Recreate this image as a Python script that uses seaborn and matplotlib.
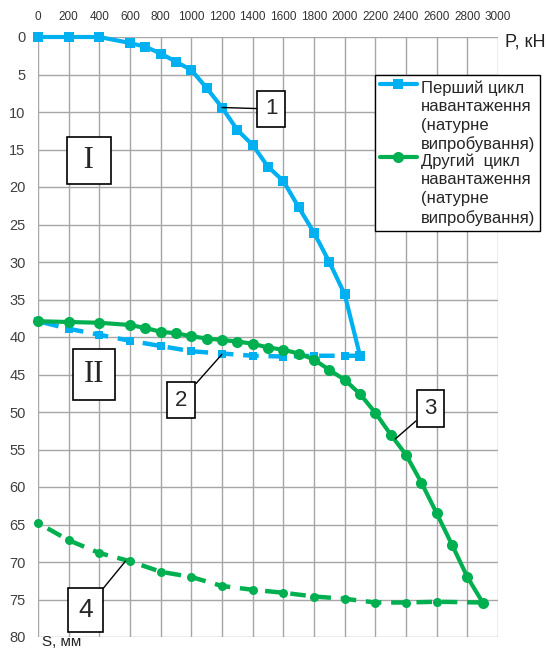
import matplotlib
matplotlib.use("Agg")
import matplotlib.pyplot as plt
import seaborn as sns
import pandas as pd
import numpy as np
from matplotlib.legend_handler import HandlerLine2D

# ---- data ----
p1 = [0, 200, 400, 600, 700, 800, 900, 1000, 1100, 1200, 1300, 1400, 1500, 1600,
      1700, 1800, 1900, 2000, 2100]
s1 = [0, 0, 0, 0.8, 1.3, 2.2, 3.3, 4.4, 6.8, 9.4, 12.4, 14.4, 17.3, 19.2,
      22.7, 26.1, 30.0, 34.3, 42.5]

p2 = [2100, 2000, 1800, 1600, 1400, 1200, 1000, 800, 600, 400, 200, 0]
s2 = [42.5, 42.5, 42.5, 42.6, 42.5, 42.2, 41.9, 41.2, 40.5, 39.7, 38.9, 37.9]

p3 = [0, 200, 400, 600, 700, 800, 900, 1000, 1100, 1200, 1300, 1400, 1500, 1600,
      1700, 1800, 1900, 2000, 2100, 2200, 2300, 2400, 2500, 2600, 2700, 2800, 2900]
s3 = [37.9, 38.0, 38.1, 38.4, 38.8, 39.3, 39.5, 39.9, 40.2, 40.4, 40.6, 40.9, 41.4, 41.7,
      42.2, 43.0, 44.4, 45.7, 47.6, 50.1, 53.0, 55.7, 59.4, 63.5, 67.7, 72.0, 75.4]

p4 = [2900, 2600, 2400, 2200, 2000, 1800, 1600, 1400, 1200, 1000, 800, 600, 400, 200, 0]
s4 = [75.4, 75.3, 75.4, 75.4, 74.9, 74.6, 74.1, 73.7, 73.2, 72.0, 71.3, 69.9, 68.8, 67.1, 64.8]

x_ticks = list(range(0, 3001, 200))
y_ticks = list(range(0, 81, 5))

label1 = "Перший цикл\nнавантаження\n(натурне\nвипробування)"
label2 = "Другий  цикл\nнавантаження\n(натурне\nвипробування)"

BLUE = "#00B0F0"
GREEN = "#00B050"

sns.set_style("white")
plt.rcParams['font.family'] = ['Liberation Sans', 'DejaVu Sans']

fig = plt.figure(figsize=(5.47, 6.5), dpi=100)
ax = fig.add_axes([38/547, 1-637/650, 460/547, 600/650])

df1 = pd.DataFrame({"P": p1, "S": s1})
df2 = pd.DataFrame({"P": p2, "S": s2})
df3 = pd.DataFrame({"P": p3, "S": s3})
df4 = pd.DataFrame({"P": p4, "S": s4})

sns.lineplot(data=df2, x="P", y="S", ax=ax, sort=False, estimator=None, color=BLUE,
             lw=3.2, marker="s", markersize=5.5, markeredgewidth=0, linestyle="--", clip_on=False)
ax.lines[-1].set_dashes((3.5, 2.2))
sns.lineplot(data=df4, x="P", y="S", ax=ax, sort=False, estimator=None, color=GREEN,
             lw=3.2, marker="o", markersize=6.5, markeredgewidth=0, linestyle="--", clip_on=False)
ax.lines[-1].set_dashes((3.5, 2.2))
sns.lineplot(data=df1, x="P", y="S", ax=ax, sort=False, estimator=None, color=BLUE,
             lw=3, marker="s", markersize=7.5, markeredgewidth=0, label=label1, clip_on=False)
sns.lineplot(data=df3, x="P", y="S", ax=ax, sort=False, estimator=None, color=GREEN,
             lw=3, marker="o", markersize=8, markeredgewidth=0, label=label2, clip_on=False)

ax.set_xlim(0, 3000)
ax.set_ylim(80, 0)
ax.set_xticks(x_ticks)
ax.set_yticks(y_ticks)
ax.xaxis.tick_top()
ax.set_xlabel("")
ax.set_ylabel("")
ax.grid(True, color="#A6A6A6", lw=1)
for sp in ax.spines.values():
    sp.set_visible(False)
ax.tick_params(axis="x", length=0, pad=10, labelsize=8.5, labelcolor="#333333")
ax.tick_params(axis="y", length=0, pad=9, labelsize=10.5, labelcolor="#404040")
ax.set_axisbelow(True)


class TopHandler(HandlerLine2D):
    def __init__(self, shift, **kw):
        super().__init__(**kw)
        self.shift = shift

    def create_artists(self, legend, orig_handle, xdescent, ydescent, width, height,
                       fontsize, trans):
        arts = super().create_artists(legend, orig_handle, xdescent, ydescent, width,
                                      height, fontsize, trans)
        for a in arts:
            a.set_ydata(np.asarray(a.get_ydata(), dtype=float) + self.shift)
        return arts


LFS = 12
LSP = 1.3
handles, labels = ax.get_legend_handles_labels()
leg = ax.legend(handles, labels, loc="upper left", bbox_to_anchor=(375/547, 1-75/650),
                bbox_transform=fig.transFigure, frameon=True, fancybox=False,
                fontsize=LFS, handlelength=2.2, handletextpad=0.25, borderpad=0.3,
                labelspacing=0.05, borderaxespad=0,
                handler_map={h: TopHandler(1.5 * LFS * LSP) for h in handles})
leg.get_frame().set_edgecolor("black")
leg.get_frame().set_linewidth(1)
leg.get_frame().set_alpha(1)
for t in leg.get_texts():
    t.set_linespacing(LSP)

fig.text(525/547, 1-42/650, "P, кН", fontsize=13, ha="center", va="center", color="#222222")
fig.text(42/547, 8/650, "S, мм", fontsize=11, ha="left", va="center", color="#222222")

box = dict(boxstyle="square,pad=0.35", fc="white", ec="black", lw=1.2)
arrow = dict(arrowstyle="-", color="black", lw=1, shrinkA=0, shrinkB=0)

ax.text(333, 16.5, " I ", fontsize=22, family=['Liberation Serif', 'DejaVu Serif'],
        ha="center", va="center", bbox=dict(boxstyle="square,pad=0.3", fc="white", ec="black", lw=1.2))
ax.text(365, 45.0, "II", fontsize=22, family=['Liberation Serif', 'DejaVu Serif'],
        ha="center", va="center", bbox=dict(boxstyle="square,pad=0.35", fc="white", ec="black", lw=1.2))

ax.annotate("1", xy=(1200, 9.4), xytext=(1520, 9.6), fontsize=16, ha="center", va="center",
            bbox=box, arrowprops=arrow)
ax.annotate("2", xy=(1200, 42.3), xytext=(935, 48.4), fontsize=16, ha="center", va="center",
            bbox=box, arrowprops=arrow)
ax.annotate("3", xy=(2330, 53.6), xytext=(2560, 49.5), fontsize=16, ha="center", va="center",
            bbox=box, arrowprops=arrow)
ax.annotate("4", xy=(570, 69.9), xytext=(310, 76.4), fontsize=19, ha="center", va="center",
            bbox=dict(boxstyle="square,pad=0.38", fc="white", ec="black", lw=1.2), arrowprops=arrow)

fig.savefig("out.png", dpi=100)
